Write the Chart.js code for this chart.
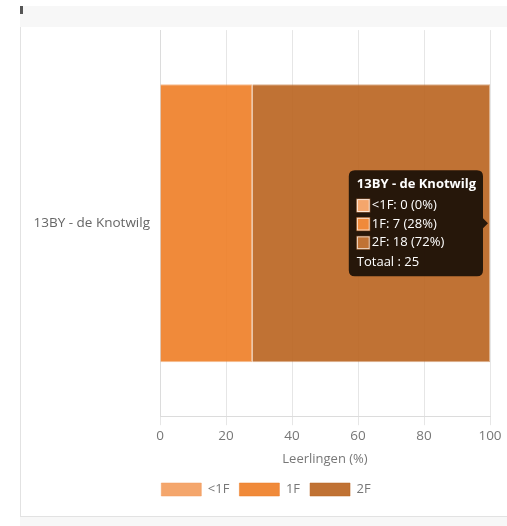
<!DOCTYPE html>
<html>
<head>
<meta charset="utf-8">
<script src="https://cdn.jsdelivr.net/npm/chart.js@4/dist/chart.umd.min.js"></script>
<style>
  html, body { margin: 0; padding: 0; background: #fff; }
  body { width: 507px; height: 526px; position: relative; overflow: hidden; font-family: "Open Sans", sans-serif; }
  .topbar { position: absolute; left: 20px; top: 6px; right: 0; height: 21px; background: #f7f7f7; }
  .topbar .mark { position: absolute; left: 0; top: 0; width: 3px; height: 8px; background: #555; }
  .card { position: absolute; left: 20px; top: 27px; width: 487px; height: 490px; background: #fff;
          border-left: 1px solid #e2e2e2; border-bottom: 1px solid #e2e2e2; box-sizing: border-box; }
  .bottom { position: absolute; left: 20px; top: 517px; right: 0; height: 9px; background: #f7f7f7; }
  .wrap { position: absolute; left: -1px; top: -7px; width: 507px; height: 490px; }
</style>
</head>
<body>
<div class="topbar"><div class="mark"></div></div>
<div class="card">
  <div class="wrap"><canvas id="myChart"></canvas></div>
</div>
<div class="bottom"></div>
<script>
// data
const categories = ["13BY - de Knotwilg"];
const levels = ["<1F", "1F", "2F"];
const counts = [[0], [7], [18]];
const percents = [[0], [28], [72]];
const totals = [25];
const xTicks = [0, 20, 40, 60, 80, 100];

const fills = ["rgba(243,156,92,0.9)", "rgba(238,125,37,0.9)", "rgba(185,99,30,0.9)"];
const borders = ["rgba(243,156,92,0.5)", "rgba(238,125,37,0.5)", "rgba(185,99,30,0.5)"];

Chart.Tooltip.positioners.rightEdge = function (elements) {
  if (!elements.length) return false;
  return { x: this.chart.chartArea.right, y: elements[0].element.y };
};

// legend sits a bit right of the canvas centre in the original
const legendShift = {
  id: "legendShift",
  afterLayout: function (chart) {
    chart.legend.left += 11;
    chart.legend.right += 11;
  }
};

const datasets = levels.map(function (lv, i) {
  return {
    label: lv,
    data: percents[i],
    backgroundColor: fills[i],
    borderColor: borders[i],
    borderWidth: 1
  };
});

const config = {
  type: "bar",
  data: { labels: categories, datasets: datasets },
  plugins: [legendShift],
  options: {
    indexAxis: "y",
    responsive: true,
    maintainAspectRatio: false,
    animation: false,
    layout: { padding: { top: 0, right: 37, left: 0, bottom: 4 } },
    scales: {
      x: {
        stacked: true,
        min: 0,
        max: 100,
        afterBuildTicks: function (scale) {
          scale.ticks = xTicks.map(function (v) { return { value: v }; });
        },
        grid: { color: "#e6e6e6", tickLength: 9 },
        border: { color: "#dcdcdc" },
        ticks: { color: "#777", font: { size: 13.5, family: "Open Sans" }, padding: 3 },
        title: { display: true, text: "Leerlingen (%)", color: "#777", font: { size: 13, family: "Open Sans" }, padding: { top: 4, bottom: 6 } }
      },
      y: {
        stacked: true,
        afterFit: function (scale) { scale.width = 140; },
        grid: { display: false },
        border: { color: "#dcdcdc" },
        ticks: { color: "#666", font: { size: 13.5, family: "Open Sans" }, padding: 2 }
      }
    },
    plugins: {
      legend: {
        position: "bottom",
        labels: { boxWidth: 40, boxHeight: 13, color: "#777", font: { size: 13, family: "Open Sans" }, padding: 10 }
      },
      tooltip: {
        mode: "index",
        position: "rightEdge",
        xAlign: "right",
        yAlign: "center",
        caretSize: 5,
        padding: { left: 8, right: 7, top: 6, bottom: 6 },
        bodySpacing: 3,
        footerMarginTop: 4,
        titleFont: { size: 13, weight: "bold", family: "Open Sans" },
        bodyFont: { size: 13, family: "Open Sans" },
        footerFont: { size: 13, weight: "normal", family: "Open Sans" },
        callbacks: {
          label: function (ctx) {
            return levels[ctx.datasetIndex] + ": " + counts[ctx.datasetIndex][ctx.dataIndex] + " (" + ctx.raw + "%)";
          },
          footer: function (items) {
            return "Totaal : " + totals[items[0].dataIndex];
          }
        }
      }
    }
  }
};

var myChart = new Chart(document.getElementById("myChart"), config);
var active = levels.map(function (lv, i) { return { datasetIndex: i, index: 0 }; });
myChart.tooltip.setActiveElements(active, { x: myChart.chartArea.right, y: 223 });
myChart.update();
</script>
</body>
</html>
